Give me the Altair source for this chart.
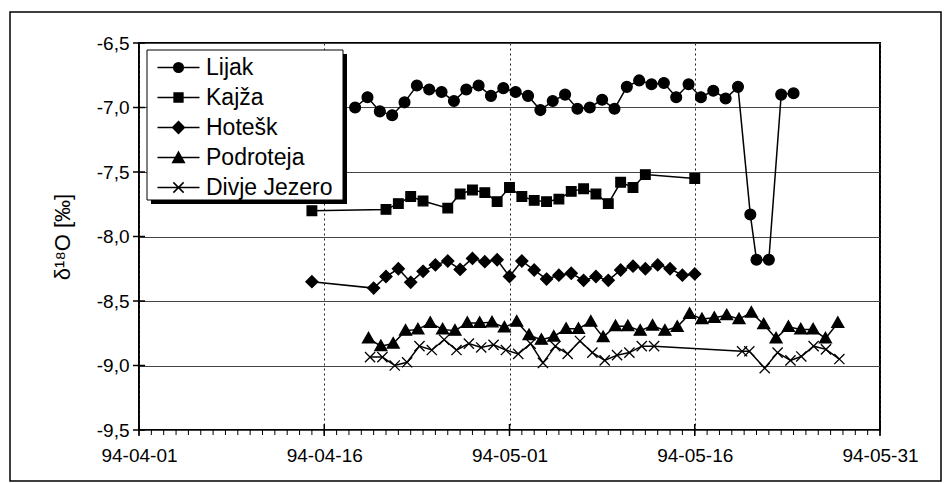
import altair as alt
import pandas as pd

# Sampling series: δ18O in per mil, spring 1994
SERIES = ["Lijak", "Kajža", "Hotešk", "Podroteja", "Divje Jezero"]

lijak_dates = [
    "1994-04-18T12:00", "1994-04-19T12:00", "1994-04-20T12:00", "1994-04-21T12:00",
    "1994-04-22T12:00", "1994-04-23T12:00", "1994-04-24T12:00", "1994-04-25T12:00",
    "1994-04-26T12:00", "1994-04-27T12:00", "1994-04-28T12:00", "1994-04-29T12:00",
    "1994-04-30T12:00", "1994-05-01T12:00", "1994-05-02T12:00", "1994-05-03T12:00",
    "1994-05-04T12:00", "1994-05-05T12:00", "1994-05-06T12:00", "1994-05-07T12:00",
    "1994-05-08T12:00", "1994-05-09T12:00", "1994-05-10T12:00", "1994-05-11T12:00",
    "1994-05-12T12:00", "1994-05-13T12:00", "1994-05-14T12:00", "1994-05-15T12:00",
    "1994-05-16T12:00", "1994-05-17T12:00", "1994-05-18T12:00", "1994-05-19T12:00",
    "1994-05-20T12:00", "1994-05-21T00:00", "1994-05-22T00:00", "1994-05-23T00:00",
    "1994-05-24T00:00",
]
lijak_values = [
    -7.00, -6.92, -7.03, -7.06, -6.96, -6.83, -6.86, -6.88, -6.95, -6.86,
    -6.83, -6.91, -6.85, -6.88, -6.91, -7.02, -6.95, -6.90, -7.01, -7.00,
    -6.94, -7.01, -6.84, -6.79, -6.82, -6.81, -6.92, -6.82, -6.92, -6.87,
    -6.93, -6.84, -7.83, -8.18, -8.18, -6.90, -6.89,
]

kajza_dates = [
    "1994-04-15", "1994-04-21", "1994-04-22", "1994-04-23", "1994-04-24",
    "1994-04-26", "1994-04-27", "1994-04-28", "1994-04-29", "1994-04-30",
    "1994-05-01", "1994-05-02", "1994-05-03", "1994-05-04", "1994-05-05",
    "1994-05-06", "1994-05-07", "1994-05-08", "1994-05-09", "1994-05-10",
    "1994-05-11", "1994-05-12", "1994-05-16",
]
kajza_values = [
    -7.80, -7.79, -7.745, -7.69, -7.725, -7.78, -7.67, -7.64, -7.66, -7.73,
    -7.62, -7.69, -7.72, -7.73, -7.71, -7.65, -7.63, -7.67, -7.745, -7.58,
    -7.62, -7.52, -7.55,
]

hotesk_dates = [
    "1994-04-15", "1994-04-20", "1994-04-21", "1994-04-22", "1994-04-23",
    "1994-04-24", "1994-04-25", "1994-04-26", "1994-04-27", "1994-04-28",
    "1994-04-29", "1994-04-30", "1994-05-01", "1994-05-02", "1994-05-03",
    "1994-05-04", "1994-05-05", "1994-05-06", "1994-05-07", "1994-05-08",
    "1994-05-09", "1994-05-10", "1994-05-11", "1994-05-12", "1994-05-13",
    "1994-05-14", "1994-05-15", "1994-05-16",
]
hotesk_values = [
    -8.35, -8.40, -8.31, -8.25, -8.355, -8.27, -8.22, -8.19, -8.255, -8.17,
    -8.195, -8.18, -8.31, -8.19, -8.26, -8.33, -8.30, -8.285, -8.34, -8.31,
    -8.34, -8.26, -8.23, -8.25, -8.22, -8.25, -8.30, -8.29,
]

podroteja_dates = [
    "1994-04-19T14:00", "1994-04-20T14:00", "1994-04-21T14:00", "1994-04-22T14:00",
    "1994-04-23T14:00", "1994-04-24T14:00", "1994-04-25T14:00", "1994-04-26T14:00",
    "1994-04-27T14:00", "1994-04-28T14:00", "1994-04-29T14:00", "1994-04-30T14:00",
    "1994-05-01T14:00", "1994-05-02T14:00", "1994-05-03T14:00", "1994-05-04T14:00",
    "1994-05-05T14:00", "1994-05-06T14:00", "1994-05-07T14:00", "1994-05-08T14:00",
    "1994-05-09T14:00", "1994-05-10T14:00", "1994-05-11T14:00", "1994-05-12T14:00",
    "1994-05-13T14:00", "1994-05-14T14:00", "1994-05-15T14:00", "1994-05-16T14:00",
    "1994-05-17T14:00", "1994-05-18T14:00", "1994-05-19T14:00", "1994-05-20T14:00",
    "1994-05-21T14:00", "1994-05-22T14:00", "1994-05-23T14:00", "1994-05-24T14:00",
    "1994-05-25T14:00", "1994-05-26T14:00", "1994-05-27T14:00",
]
podroteja_values = [
    -8.79, -8.85, -8.83, -8.73, -8.72, -8.67, -8.72, -8.73, -8.67, -8.67,
    -8.665, -8.705, -8.66, -8.765, -8.80, -8.775, -8.715, -8.715, -8.66, -8.78,
    -8.695, -8.695, -8.73, -8.69, -8.73, -8.70, -8.60, -8.64, -8.63, -8.61,
    -8.64, -8.59, -8.68, -8.79, -8.70, -8.72, -8.72, -8.79, -8.67,
]

divje_dates = [
    "1994-04-19T17:00", "1994-04-20T17:00", "1994-04-21T17:00", "1994-04-22T17:00",
    "1994-04-23T17:00", "1994-04-24T17:00", "1994-04-25T17:00", "1994-04-26T17:00",
    "1994-04-27T17:00", "1994-04-28T17:00", "1994-04-29T17:00", "1994-04-30T17:00",
    "1994-05-01T17:00", "1994-05-02T17:00", "1994-05-03T17:00", "1994-05-04T17:00",
    "1994-05-05T17:00", "1994-05-06T17:00", "1994-05-07T17:00", "1994-05-08T17:00",
    "1994-05-09T17:00", "1994-05-10T17:00", "1994-05-11T17:00", "1994-05-12T17:00",
    "1994-05-19T20:00", "1994-05-20T10:00", "1994-05-21T16:00", "1994-05-22T17:00",
    "1994-05-23T18:00", "1994-05-24T15:00", "1994-05-25T15:00", "1994-05-26T15:00",
    "1994-05-27T17:00",
]
divje_values = [
    -8.935, -8.935, -9.00, -8.975, -8.85, -8.88, -8.80, -8.88, -8.83, -8.86,
    -8.84, -8.88, -8.91, -8.83, -8.98, -8.85, -8.91, -8.81, -8.90, -8.96,
    -8.92, -8.90, -8.85, -8.85,
    -8.89, -8.89, -9.02, -8.90, -8.96, -8.93, -8.85, -8.875, -8.95,
]

# Axis ticks
x_tick_dates = ["1994-04-01", "1994-04-16", "1994-05-01", "1994-05-16", "1994-05-31"]
y_tick_values = [-9.5, -9.0, -8.5, -8.0, -7.5, -7.0, -6.5]

# Long table for the library
frames = []
for name, d, v in [
    ("Lijak", lijak_dates, lijak_values),
    ("Kajža", kajza_dates, kajza_values),
    ("Hotešk", hotesk_dates, hotesk_values),
    ("Podroteja", podroteja_dates, podroteja_values),
    ("Divje Jezero", divje_dates, divje_values),
]:
    frames.append(pd.DataFrame({"series": name, "date": d, "value": v}))
df = pd.concat(frames, ignore_index=True)

major_df = pd.DataFrame({"date": x_tick_dates})
minor_df = pd.DataFrame(
    {"date": pd.date_range(x_tick_dates[0], x_tick_dates[-1], freq="D").strftime("%Y-%m-%d")}
)
ytick_df = pd.DataFrame({"value": y_tick_values})
one_row = pd.DataFrame({"k": [0]})

W, H = 741, 387
FONT = "Liberation Sans"


def dt(s):
    t = pd.Timestamp(s)
    return alt.DateTime(year=t.year, month=t.month, date=t.day)


x_scale = alt.Scale(domain=[dt(x_tick_dates[0]), dt(x_tick_dates[-1])], nice=False)
y_scale = alt.Scale(domain=[y_tick_values[0], y_tick_values[-1]], nice=False, zero=False)

x_axis = alt.Axis(
    values=[dt(s) for s in x_tick_dates], format="%y-%m-%d", title=None,
    ticks=False, domain=False, grid=True, gridDash=[2, 3], gridColor="#222",
    gridWidth=1, labelFontSize=19, labelFont=FONT, labelColor="black",
    labelPadding=16, labelFlush=False, labelOverlap=False,
)
y_axis = alt.Axis(
    values=y_tick_values, title="δ¹⁸O [‰]",
    labelExpr="replace(replace(format(datum.value, '.1f'), '.', ','), '\u2212', '-')",
    ticks=False, domain=False, grid=True, gridColor="#444", gridWidth=1,
    labelFontSize=19, labelFont=FONT, labelColor="black", labelPadding=10,
    titleFont=FONT, titleFontSize=22, titleFontWeight="normal", titleColor="black",
    titleX=-77, titleY=H / 2, titleAngle=-90, titleAlign="center", titleBaseline="middle",
)

X = alt.X("date:T", scale=x_scale, axis=x_axis)
Y = alt.Y("value:Q", scale=y_scale, axis=y_axis)

# Marker outlines in unit coordinates (size 144 -> 6 px per unit)
marker_paths = [
    "M-0.9,0A0.9,0.9,0,1,1,0.9,0A0.9,0.9,0,1,1,-0.9,0Z",
    "M-0.8,-0.8H0.8V0.8H-0.8Z",
    "M0,-1L1,0L0,1L-1,0Z",
    "M0,-1L1,0.75L-1,0.75Z",
    "M-0.85,-0.85L0.85,0.85M-0.85,0.85L0.85,-0.85",
]


# Legend keys are stroked only: a line segment through a marker drawn as
# nested outlines so that it reads as solid (size 441 -> 10.5 px per unit).
def _circle(r):
    return f"M{-r},0A{r},{r},0,1,1,{r},0A{r},{r},0,1,1,{-r},0Z"


def _square(h):
    return f"M{-h},{-h}H{h}V{h}H{-h}Z"


def _diamond(h):
    return f"M0,{-h}L{h},0L0,{h}L{-h},0Z"


def _triangle(k):
    cy = 0.1
    return (f"M0,{cy - 0.62 * k:.3f}L{0.55 * k:.3f},{cy + 0.38 * k:.3f}"
            f"L{-0.55 * k:.3f},{cy + 0.38 * k:.3f}Z")


STEPS = [1.0, 0.8, 0.6, 0.4, 0.2, 0.05]
legend_paths = [
    "M-2,0H2" + "".join(_circle(round(0.46 * k, 3)) for k in STEPS),
    "M-2,0H2" + "".join(_square(round(0.42 * k, 3)) for k in STEPS),
    "M-2,0H2" + "".join(_diamond(round(0.56 * k, 3)) for k in STEPS),
    "M-2,0H2" + "".join(_triangle(k) for k in STEPS),
    "M-2,0H2M-0.49,-0.49L0.49,0.49M-0.49,0.49L0.49,-0.49",
]
ink = ["black"] * len(SERIES)

frame = alt.Chart(one_row).mark_rect(filled=False, stroke="black", strokeWidth=1.5).encode(
    x=alt.value(-129), x2=alt.value(802), y=alt.value(-31), y2=alt.value(438)
)

lines = alt.Chart(df).mark_line(color="black", strokeWidth=1.5).encode(
    x=X, y=Y, detail="series:N",
)

points = alt.Chart(df).mark_point(
    filled=True, fill="black", stroke="black", strokeWidth=1.3, opacity=1, size=144
).encode(
    x=X, y=Y,
    shape=alt.Shape("series:N", scale=alt.Scale(domain=SERIES, range=marker_paths), legend=None),
)

# Legend box with a drop shadow, drawn over the data
shadow = alt.Chart(one_row).mark_rect(color="black").encode(
    x=alt.value(12), x2=alt.value(208), y=alt.value(11), y2=alt.value(161)
)
legend_box = alt.Chart(one_row).mark_rect(fill="white", stroke="black", strokeWidth=1).encode(
    x=alt.value(8), x2=alt.value(204), y=alt.value(7), y2=alt.value(157)
)

legend_layer = alt.Chart(df).transform_filter("false").mark_point(
    filled=False, strokeWidth=1.5, opacity=1, size=441
).encode(
    x=X, y=Y,
    shape=alt.Shape(
        "series:N",
        scale=alt.Scale(domain=SERIES, range=legend_paths),
        legend=alt.Legend(
            title=None, orient="none", legendX=8, legendY=7,
            labelFont=FONT, labelFontSize=23, labelColor="black",
            padding=6, symbolSize=441, symbolStrokeWidth=1.5,
            symbolStrokeColor="black", symbolOffset=14, labelOffset=16, rowPadding=6,
        ),
    ),
    stroke=alt.Stroke("series:N", scale=alt.Scale(domain=SERIES, range=ink), legend=None),
)

major_x_ticks = alt.Chart(major_df).mark_rule(color="black", strokeWidth=1.5).encode(
    x=X, y=alt.value(H - 6), y2=alt.value(H + 6)
)
minor_x_ticks = alt.Chart(minor_df).mark_rule(color="black", strokeWidth=1).encode(
    x=X, y=alt.value(H), y2=alt.value(H + 5)
)
y_ticks = alt.Chart(ytick_df).mark_rule(color="black", strokeWidth=1.5).encode(
    y=Y, x=alt.value(-6), x2=alt.value(6)
)

chart = (
    alt.layer(frame, lines, points, shadow, legend_box, legend_layer,
              major_x_ticks, minor_x_ticks, y_ticks)
    .resolve_scale(shape="independent")
    .properties(
        width=W, height=H,
        autosize=alt.AutoSizeParams(type="none"),
        padding={"left": 139, "top": 43, "right": 949 - 139 - W, "bottom": 483 - 43 - H},
        background="white",
    )
    .configure_view(stroke="black", strokeWidth=2)
    .configure_legend(symbolLimit=0, symbolBaseStrokeColor="black")
)

chart.save("out.html", embed_options={"renderer": "svg", "actions": False})
